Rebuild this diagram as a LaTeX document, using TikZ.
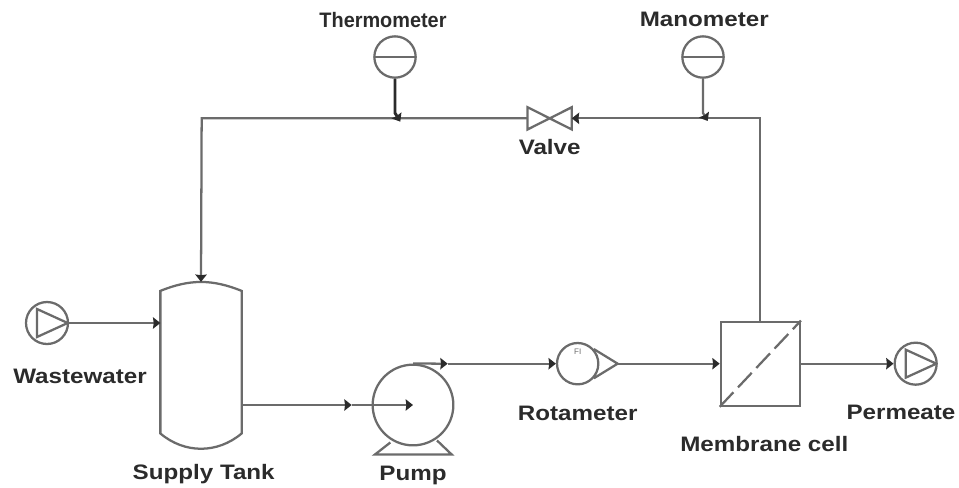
\documentclass[tikz,border=0pt]{standalone}
\usepackage{fontspec}
\setmainfont{Liberation Sans}
\newfontfamily\labfont[FakeStretch=1.155]{Liberation Sans}
\newfontfamily\thermofont[FakeStretch=0.95]{Liberation Sans}
\usepackage{tikz}
\usetikzlibrary{arrows.meta,positioning}

\definecolor{pipe}{gray}{0.42}
\definecolor{lbl}{gray}{0.17}

\begin{document}
\begin{tikzpicture}[x=0.75pt,y=-0.75pt,>={Stealth[length=5.5pt,width=8.5pt,inset=0.5pt,color=lbl]},on grid,line width=1.7pt,draw=pipe]
\tikzstyle{tankbox} = [rectangle,minimum width=59.25pt,minimum height=123pt,inner sep=0pt]
\tikzstyle{membox} = [rectangle,draw=pipe,minimum width=59.25pt,minimum height=63pt,inner sep=0pt]
\tikzstyle{disc} = [circle,draw=pipe,inner sep=0pt]
\tikzstyle{feedpump} = [disc,minimum size=31.5pt,
  path picture={\draw (path picture bounding box.center) ++(-7.5pt,10.5pt) -- ++(0,-21pt) -- ++(23pt,10.5pt) -- cycle;}]
\tikzstyle{gauge} = [disc,minimum size=31pt,
  path picture={\draw (path picture bounding box.west) -- (path picture bounding box.east);}]
\tikzstyle{lab} = [font=\labfont\bfseries\fontsize{15.7pt}{17pt}\selectfont,text=lbl,inner sep=0pt]
\tikzstyle{pipeline} = [draw=pipe,line width=1.7pt]
\useasboundingbox (0,0) rectangle (959,487);

    \node[tankbox] (tank) at (201,365) {};
    \node[feedpump] (waste) [above left=31.5pt and 115.5pt of tank] {};
    \node[disc,minimum size=60.5pt] (pump) [below right=30pt and 159pt of tank] {};
    \node[disc,minimum size=31pt] (rota) [above right=31pt and 123.5pt of pump] {};
    \node[membox] (cell) [right=137pt of rota] {};
    \node[feedpump] (perm) [right=116.5pt of cell] {};
    \node[rectangle,minimum width=31.5pt,minimum height=15pt,inner sep=0pt] (valve) [above left=184pt and 21pt of rota] {};
    \node[gauge] (thermo) [above left=46pt and 116pt of valve] {};
    \node[gauge] (mano) [above right=46pt and 115pt of valve] {};

    % labels
    \node[lab,font=\thermofont\bfseries\fontsize{15.7pt}{17pt}\selectfont] (thermolab) [above left=28pt and 9pt of thermo] {Thermometer};
    \node[lab] (manolab) [above right=28pt and 1pt of mano] {Manometer};
    \node[lab] (valvelab) [below=21.5pt of valve] {Valve};
    \node[lab] (wastelab) [below right=40pt and 24.75pt of waste] {Wastewater};
    \node[lab] (tanklab) [below right=81.5pt and 2pt of tank] {Supply Tank};
    \node[lab] (pumplab) [below=52.5pt of pump] {Pump};
    \node[lab] (rotalab) [below=37pt of rota] {Rotameter};
    \node[lab] (celllab) [below right=60pt and 3pt of cell] {Membrane cell};
    \node[lab] (permlab) [below left=36.5pt and 11pt of perm] {Permeate};
    \node[font=\fontsize{6pt}{7pt}\selectfont,text=pipe,inner sep=0pt] (rotatext) [above=9pt of rota] {FI};

    % helper points
    \coordinate[right=30pt of rota] (rotatip);
    \coordinate[left=46pt of pump] (tankmid);
    \coordinate[left=97.5pt of rota] (pumpmid);
    \coordinate[right=158pt of valve] (topright);
    \coordinate[left=261pt of valve] (topleft);
    \coordinate[below=42pt of thermo] (thermobend);
    \coordinate[below right=48.5pt and 4pt of thermo] (thermotee);
    \coordinate[below=42pt of mano] (manobend);
    \coordinate[below right=48pt and 3.5pt of mano] (manotee);

    % tank
    \draw[pipeline] ([yshift=-6.75pt]tank.north west) to[bend left=22] ([yshift=-6.75pt]tank.north east)
      -- ([yshift=11pt]tank.south east) to[bend left=40] ([yshift=11pt]tank.south west) -- cycle;
    % pump foot
    \draw[pipeline] ([shift={(-17pt,3pt)}]pump.south) -- ([shift={(-28.5pt,-6pt)}]pump.south)
      -- ([shift={(29pt,-6pt)}]pump.south) -- ([shift={(18pt,4.5pt)}]pump.south);
    % rotameter cone
    \draw[pipeline] (rota.42) -- (rotatip) -- (rota.-42);
    % membrane
    \draw[pipeline,dash pattern=on 15pt off 5pt] (cell.south west) -- (cell.north east);
    % valve
    \draw[pipeline,fill=white] (valve.north west) -- (valve.south east) -- (valve.north east) -- (valve.south west) -- cycle;

    \draw[pipeline,->] (waste) -- (waste -| tank.west);
    \draw[pipeline,->] (tank.east |- pump) -- (tankmid);
    \draw[pipeline,->] (tankmid) -- (pump.center);
    \draw[pipeline,->] (pump.north) -- (pumpmid);
    \draw[pipeline,->] (pumpmid) -- (rota.west);
    \draw[pipeline,->] (rotatip) -- (cell.west);
    \draw[pipeline,->] (cell.east) -- (perm.west);
    \draw[pipeline,->] (cell.north) -- (topright) -- (valve.east);
    \draw[pipeline,->] (valve.west) -- (topleft) -- (tank.north);
    \draw[pipeline,->,line width=2.2pt,draw=lbl] (thermo.south) -- (thermobend) -- (thermotee);
    \draw[pipeline,->] (mano.south) -- (manobend) -- (manotee);
\end{tikzpicture}
\end{document}
